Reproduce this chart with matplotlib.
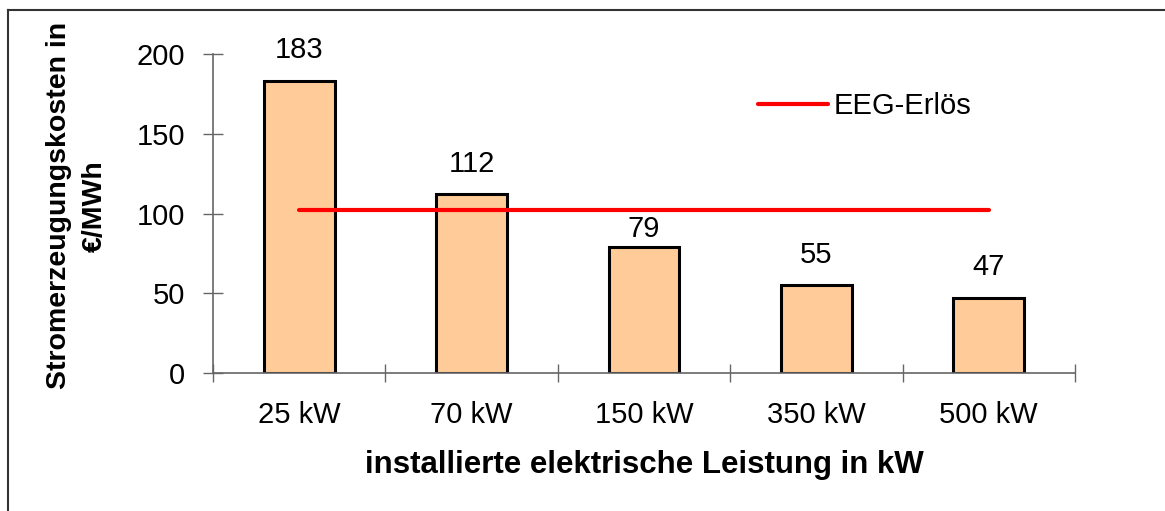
import matplotlib.pyplot as plt
from matplotlib.lines import Line2D

categories = ['25 kW', '70 kW', '150 kW', '350 kW', '500 kW']
kosten = [183, 112, 79, 55, 47]
eeg_erloes = [102, 102, 102, 102, 102]
yticks = [0, 50, 100, 150, 200]

plt.rcParams['font.family'] = ['Liberation Sans', 'DejaVu Sans']

fig = plt.figure(figsize=(11.65, 5.11), dpi=100)
ax = fig.add_axes([0.1828, 0.27, 0.7399, 0.6243])

x = list(range(len(categories)))
ax.bar(x, kosten, width=0.41, color='#FFCC99', edgecolor='black', linewidth=2.2, zorder=2)
# label "79" sits lower, right under the red line
label_offsets = [12, 12, 3, 12, 12]
for xi, v, off in zip(x, kosten, label_offsets):
    ax.annotate(str(v), (xi, v), xytext=(0, off), textcoords='offset points',
                ha='center', va='bottom', fontsize=21)

ax.plot(x, eeg_erloes, color='#FF0000', linewidth=3, solid_capstyle='round',
        label='EEG-Erlös', zorder=3)

ax.set_xlim(-0.5, len(categories) - 0.5)
ax.set_ylim(0, 200)
ax.set_yticks(yticks)
ax.set_xticks(x)
ax.set_xticklabels(categories)
ax.set_xticks([i - 0.5 for i in range(len(categories) + 1)], minor=True)
ax.tick_params(axis='x', which='major', length=0, pad=20, labelsize=21)
ax.tick_params(axis='x', which='minor', direction='inout', length=13, width=1, color='#666666')
ax.tick_params(axis='y', direction='inout', length=14, width=1, color='#666666', pad=13, labelsize=21)
for s in ['top', 'right']:
    ax.spines[s].set_visible(False)
for s in ['left', 'bottom']:
    ax.spines[s].set_color('#666666')
    ax.spines[s].set_linewidth(1.2)

fig.legend(loc='center left', bbox_to_anchor=(758 / 1165, 1 - 106 / 511),
           frameon=False, fontsize=21, handlelength=2.4, handletextpad=0.2,
           borderpad=0, borderaxespad=0)

fig.text(0.066, 0.597, 'Stromerzeugungskosten in\n€/MWh', rotation=90, ha='center',
         va='center', multialignment='center', fontsize=20.5, fontweight='bold', linespacing=1.5)
fig.text(0.553, 0.09, 'installierte elektrische Leistung in kW', ha='center', va='center',
         fontsize=22.5, fontweight='bold')

# Rahmen links und oben
fig.add_artist(Line2D([8 / 1165, 8 / 1165], [0, 1 - 10 / 511], transform=fig.transFigure,
                      color='#333333', linewidth=1.5))
fig.add_artist(Line2D([8 / 1165, 1], [1 - 10 / 511, 1 - 10 / 511], transform=fig.transFigure,
                      color='#333333', linewidth=1.5))

fig.savefig('out.png', dpi=100)
